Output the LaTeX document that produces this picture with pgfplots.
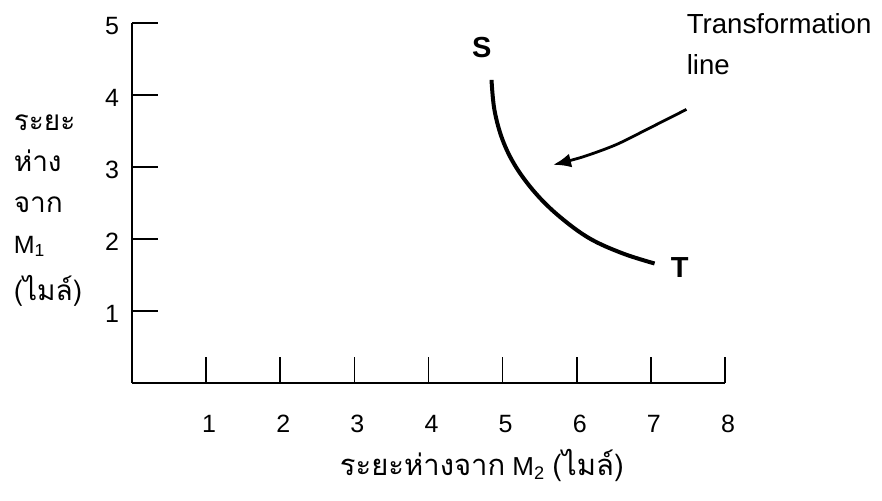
\documentclass[border=0pt]{standalone}
\usepackage{fontspec}
\setmainfont{Liberation Sans}
\newfontfamily\thaifont[Script=Thai]{Loma}
\usepackage{pgfplots}
\pgfplotsset{compat=1.18}
\usetikzlibrary{arrows.meta}

\newcommand{\thtext}[1]{{\thaifont\fontsize{14}{20.5}\selectfont #1}}
\newcommand{\thtextx}[1]{{\thaifont\fontsize{14.6}{17}\selectfont #1}}

\begin{document}
\begin{tikzpicture}
\begin{axis}[
  name=ax,
  scale only axis,
  width=296.5pt, height=180pt,
  xmin=0, xmax=8, ymin=0, ymax=5,
  axis x line=bottom, axis y line=left,
  axis line style={-, line width=0.9pt},
  tick align=inside,
  major tick length=13pt,
  tick style={line width=0.8pt, black},
  xtick={1,...,8}, ytick={1,...,5},
  clip=false,
  tick label style={font=\fontsize{12.5}{14}\selectfont, /pgf/number format/assume math mode=true},
  xticklabel style={anchor=base, yshift=-24.5pt, xshift=1.5pt},
  yticklabel style={xshift=-3pt, yshift=-1.5pt},
]
% transformation line S--T
\addplot[line width=2pt, smooth, tension=0.6] coordinates {
  (4.85,4.21) (4.89,3.79) (5.00,3.375) (5.18,3.00) (5.45,2.63)
  (5.77,2.31) (6.17,2.01) (6.62,1.80) (7.05,1.66)
};
% pointer to the line
\addplot[line width=1.4pt, smooth, -{Latex[length=9pt,width=7pt]}] coordinates {
  (7.48,3.80) (6.98,3.54) (6.53,3.31) (6.08,3.14) (5.68,3.03)
};
\node[font=\bfseries\fontsize{14.5}{16}\selectfont] at (axis cs:4.72,4.66) {S};
\node[font=\bfseries\fontsize{14.5}{16}\selectfont] at (axis cs:7.39,1.61) {T};
\node[anchor=base west, inner sep=0pt, font=\fontsize{13.8}{16}\selectfont] at (axis cs:7.48,4.86) {Transformation};
\node[anchor=base west, inner sep=0pt, font=\fontsize{13.8}{16}\selectfont] at (axis cs:7.48,4.28) {line};
% axis titles
\node[anchor=west, inner sep=0pt, align=left, font=\fontsize{12.5}{20.5}\selectfont] at (axis cs:-1.60,2.40)
  {\thtext{ระยะ}\\\thtext{ห่าง}\\\thtext{จาก}\\M\textsubscript{1}\\[3pt]\thtext{(ไมล์)}};
\node[inner sep=0pt, font=\fontsize{13}{15}\selectfont] at (axis cs:4.72,-1.14)
  {\thtextx{ระยะห่างจาก} M\textsubscript{2} \thtextx{(ไมล์)}};
\end{axis}
\pgfresetboundingbox
\path ([xshift=-66pt,yshift=-58.5pt]ax.south west) rectangle ([xshift=375pt,yshift=191.5pt]ax.south west);
\end{tikzpicture}
\end{document}
